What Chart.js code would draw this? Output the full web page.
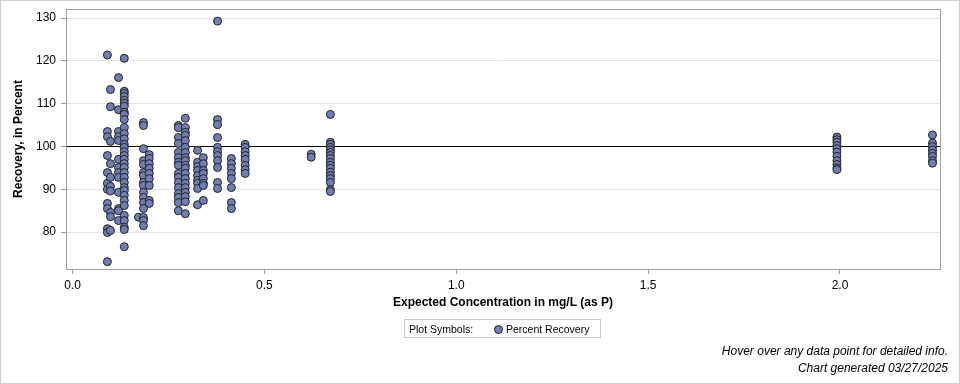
<!DOCTYPE html>
<html>
<head>
<meta charset="utf-8">
<script src="https://cdn.jsdelivr.net/npm/chart.js@4.4.1/dist/chart.umd.min.js"></script>
<style>
  body { margin: 0; background: #fff; font-family: "Liberation Sans", Arial, sans-serif; }
  #wrap { position: relative; width: 960px; height: 384px; }
  #frame { position: absolute; left: 0; top: 0; width: 960px; height: 384px; box-sizing: border-box; border: 1px solid #cfcfcf; pointer-events: none; }
  #legend { position: absolute; left: 404px; top: 319px; width: 197px; height: 19px; box-sizing: border-box; border: 1px solid #c8c8c8; font-size: 10.5px; color: #000; }
  #legend .lab { position: absolute; left: 4px; top: 3px; }
  #legend .sym { position: absolute; left: 89px; top: 5px; width: 7px; height: 7px; border-radius: 50%; background: #6F7EB3; border: 1px solid #222; }
  #legend .name { position: absolute; left: 101px; top: 3px; }
  .foot { position: absolute; right: 12px; font-size: 12px; font-style: italic; color: #000; }
</style>
</head>
<body>
<div id="wrap">
  <canvas id="canvas_scatter" width="960" height="384"></canvas>
  <div id="legend"><span class="lab">Plot Symbols:</span><span class="sym"></span><span class="name">Percent Recovery</span></div>
  <div class="foot" style="top:344px;">Hover over any data point for detailed info.</div>
  <div class="foot" style="top:361px;">Chart generated 03/27/2025</div>
  <div id="frame"></div>
</div>
<script>
// expected concentration (mg/L as P) for each column of points
var expectedConc = [0.091, 0.099, 0.120, 0.135, 0.172, 0.185, 0.200, 0.276, 0.294,
                    0.326, 0.341, 0.378, 0.414, 0.450, 0.622, 0.672, 1.992, 2.241];

// percent recovery read for each concentration above
var recovery = [
  [121.4, 103.5, 102.3, 97.9, 93.9, 91.4, 90.0, 86.7, 85.5, 80.8, 79.9, 73.1],
  [113.3, 109.3, 101.2, 96.0, 92.8, 90.7, 89.6, 84.6, 83.6, 80.4],
  [116.1, 108.6, 103.5, 102.3, 101.4, 97.0, 95.1, 93.9, 92.8, 89.3, 85.5, 85.0, 82.7],
  [120.6, 112.9, 112.4, 111.7, 110.8, 110.1, 109.4, 108.0, 107.5, 106.3, 104.4, 103.0, 101.8,
   100.5, 99.8, 98.8, 97.9, 97.0, 96.0, 95.1, 93.9, 92.8, 91.6, 90.4, 89.7, 88.6, 87.4, 86.2,
   83.9, 82.7, 81.1, 80.6, 76.6],
  [83.5],
  [105.6, 104.9, 99.5, 96.7, 95.8, 93.9, 93.2, 91.6, 90.9, 89.3, 88.1, 86.9, 85.5, 83.4, 82.7, 81.5],
  [98.1, 97.2, 96.0, 94.9, 93.7, 92.5, 90.9, 87.4, 86.7],
  [104.9, 104.4, 102.1, 100.7, 98.6, 97.4, 96.3, 95.6, 93.7, 92.8, 91.6, 90.4, 89.0, 88.1, 86.9, 85.0],
  [106.6, 104.4, 103.3, 102.6, 101.4, 99.8, 98.6, 97.4, 96.7, 95.6, 94.9, 93.7, 92.5, 91.4, 90.4,
   89.3, 88.3, 87.1, 84.3],
  [99.1, 96.3, 95.3, 94.4, 93.2, 92.1, 91.4, 90.2, 86.4],
  [97.4, 96.0, 94.4, 93.7, 92.5, 91.4, 90.9, 87.4],
  [129.3, 106.3, 105.1, 102.1, 99.8, 98.8, 97.9, 96.7, 95.1, 91.6, 90.2],
  [97.2, 96.0, 94.9, 93.7, 92.5, 90.4, 86.9, 85.5],
  [100.5, 99.8, 98.8, 97.9, 97.0, 95.6, 94.6, 93.7],
  [98.2, 97.5],
  [107.5, 101.0, 100.5, 99.8, 99.2, 98.6, 97.9, 97.2, 96.3, 95.6, 94.9, 94.0, 93.2, 92.5, 91.6, 89.9, 89.5],
  [102.2, 101.6, 101.0, 100.2, 99.5, 98.7, 97.7, 96.7, 95.8, 95.0, 94.6],
  [102.7, 100.8, 100.0, 99.2, 98.4, 97.7, 96.7, 96.1]
];

var xTicks = [0, 0.5, 1.0, 1.5, 2.0];
var yTicks = [80, 90, 100, 110, 120, 130];
var xRange = [-0.0169, 2.2606];
var yRange = [71.38, 132.13];
var refRecovery = 100;

var puntos = [];
expectedConc.forEach(function(c, i){
  recovery[i].forEach(function(r){ puntos.push({x: c, y: r}); });
});

var fontBase = { family: '"Liberation Sans", Arial, sans-serif', size: 12 };

var marco = {
  id: 'marco',
  afterDraw: function(chart){
    var a = chart.chartArea, ctx = chart.ctx;
    ctx.save();
    ctx.strokeStyle = '#a0a0a0';
    ctx.lineWidth = 1;
    ctx.strokeRect(Math.round(a.left) + 0.5, Math.round(a.top) + 0.5,
                   Math.round(a.right - a.left), Math.round(a.bottom - a.top));
    ctx.restore();
  }
};

var ctx = document.getElementById('canvas_scatter').getContext('2d');
window.myScatter = new Chart(ctx, {
  type: 'scatter',
  data: {
    datasets: [
      {
        label: 'Percent Recovery',
        data: puntos,
        backgroundColor: '#6F7EB3',
        borderColor: '#222',
        borderWidth: 1,
        pointRadius: 4,
        order: 1
      },
      {
        type: 'line',
        label: 'ref',
        data: [{x: xRange[0], y: refRecovery}, {x: xRange[1], y: refRecovery}],
        borderColor: '#000',
        borderWidth: 1,
        pointRadius: 0,
        order: 2
      }
    ]
  },
  options: {
    responsive: false,
    animation: false,
    layout: { padding: { left: 0, right: 20, top: 9, bottom: 70 } },
    plugins: { legend: { display: false }, tooltip: { enabled: false } },
    scales: {
      x: {
        type: 'linear',
        min: xRange[0],
        max: xRange[1],
        afterFit: function(s){ s.height = 45; s.paddingLeft = 0; s.paddingRight = 0; },
        afterBuildTicks: function(s){ s.ticks = xTicks.map(function(v){ return {value: v}; }); },
        ticks: { padding: 4, color: '#000', font: fontBase, maxRotation: 0,
                 callback: function(v){ return Number(v).toFixed(1); } },
        grid: { drawOnChartArea: false, tickLength: 5, tickColor: '#999' },
        border: { color: '#a0a0a0' },
        title: { display: true, text: 'Expected Concentration in mg/L (as P)', color: '#000',
                 font: { family: fontBase.family, size: 12, weight: 'bold' }, padding: { top: 4, bottom: 4 } }
      },
      y: {
        min: yRange[0],
        max: yRange[1],
        afterFit: function(s){ s.width = 66; s.paddingTop = 0; s.paddingBottom = 0; },
        afterBuildTicks: function(s){ s.ticks = yTicks.map(function(v){ return {value: v}; }); },
        ticks: { padding: 5, color: '#000', font: fontBase },
        grid: { color: '#e3e3e3', tickLength: 5, tickColor: '#999' },
        border: { color: '#a0a0a0' },
        title: { display: true, text: 'Recovery, in Percent', color: '#000',
                 font: { family: fontBase.family, size: 12, weight: 'bold' }, padding: { top: 11, bottom: 4 } }
      }
    }
  },
  plugins: [marco]
});
</script>
</body>
</html>
